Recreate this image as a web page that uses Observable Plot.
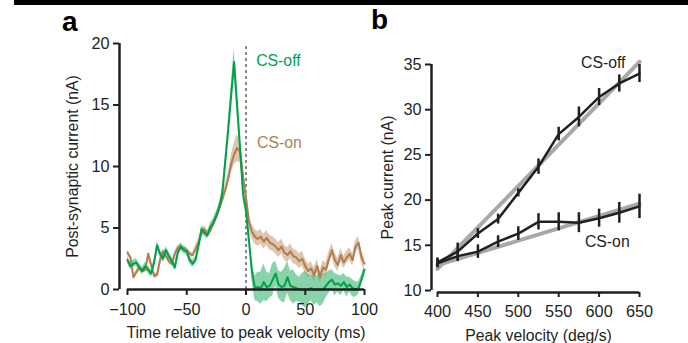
<!DOCTYPE html>
<html><head><meta charset="utf-8">
<script src="https://cdn.jsdelivr.net/npm/d3@7"></script>
<script src="https://cdn.jsdelivr.net/npm/@observablehq/plot@0.6"></script>
<style>
body{margin:0;background:#fff;}
#wrap{position:relative;width:688px;height:343px;overflow:hidden;font-family:"Liberation Sans",Arial,sans-serif;background:#fff;}
#bar{position:absolute;left:14px;top:0;width:674px;height:5px;background:#000;}
.lab{position:absolute;font-weight:bold;font-size:28px;line-height:1;color:#000;}
#pa,#pb{position:absolute;top:0;}
#pa{left:0;} #pb{left:370px;}
</style></head><body>
<div id="wrap"><div id="bar"></div><div id="pa"></div><div id="pb"></div><div class="lab" id="la" style="left:62px;top:8px;">a</div><div class="lab" id="lb" style="left:371px;top:6px;">b</div></div>
<script>
// ---------- Panel a data ----------
const time = [-100,-97.5,-95,-92.5,-90,-87.5,-85,-82.5,-80,-77.5,-75,-72.5,-70,-67.5,-65,-62.5,-60,-57.5,-55,-52.5,-50,-47.5,-45,-42.5,-40,-37.5,-35,-32.5,-30,-27.5,-25,-22.5,-20,-17.5,-15,-12.5,-10,-7.5,-5,-2.5,0,2.5,5,7.5,10,12.5,15,17.5,20,22.5,25,27.5,30,32.5,35,37.5,40,42.5,45,47.5,50,52.5,55,57.5,60,62.5,65,67.5,70,72.5,75,77.5,80,82.5,85,87.5,90,92.5,95,97.5,100];
const csOff = [2.4,1.9,2.1,2.2,1.8,1.5,1.9,1.6,1.3,2.2,3.6,2.9,2.5,3.2,2.7,2.3,1.8,3.0,3.5,3.2,3.1,2.4,2.1,2.4,3.6,4.9,4.6,4.4,5.1,5.4,6.0,6.7,7.8,10.4,13.0,15.8,18.5,15.0,11.5,7.8,6.4,4.0,1.5,0.1,0.2,0.1,0.6,0.2,0.3,0.8,1.3,0.4,0.2,0.3,1.0,0.3,0.2,0.1,0.0,0.0,0.0,0.0,0.1,0.0,0.0,0.0,0.0,0.3,0.6,0.8,0.4,0.5,0.3,0.6,0.2,0.4,0.1,0.0,0.1,0.8,1.6];
const csOffErr = [0.3,0.3,0.3,0.3,0.3,0.3,0.3,0.3,0.3,0.3,0.3,0.3,0.3,0.3,0.3,0.3,0.3,0.3,0.3,0.3,0.3,0.3,0.3,0.3,0.3,0.3,0.3,0.3,0.3,0.35,0.35,0.35,0.4,0.5,0.6,0.8,1.1,0.8,0.6,0.4,0.3,0.4,0.7,1.0,1.2,1.3,1.5,1.2,1.0,1.3,1.0,1.1,1.2,1.4,1.3,1.2,1.4,1.1,1.0,1.3,1.5,1.2,1.0,1.3,1.1,1.4,1.2,1.0,0.9,0.8,0.9,0.7,0.8,0.7,0.8,0.6,0.7,0.6,0.5,0.4,0.3];
const csOn = [3.0,2.6,1.0,1.4,1.8,1.5,1.6,2.9,2.0,1.1,1.2,2.4,3.1,2.7,2.3,2.1,2.9,3.4,3.5,3.3,3.2,2.9,2.8,3.3,3.8,4.6,4.9,4.5,4.8,5.4,5.9,6.6,7.3,8.1,9.0,10.2,11.0,11.5,11.2,9.2,7.5,5.5,4.7,4.3,4.1,4.3,3.9,4.2,3.8,3.7,3.5,3.2,3.5,3.0,2.8,3.1,2.7,2.6,2.3,2.5,1.9,1.5,1.7,1.2,1.9,1.0,1.8,1.6,2.5,3.2,2.4,2.0,2.8,2.2,2.6,2.9,2.4,3.5,3.8,2.6,2.1];
const csOnErr = [0.2,0.2,0.2,0.2,0.2,0.2,0.2,0.2,0.2,0.2,0.2,0.2,0.2,0.2,0.2,0.2,0.2,0.2,0.2,0.2,0.2,0.2,0.2,0.3,0.3,0.3,0.3,0.3,0.3,0.35,0.35,0.35,0.35,0.4,0.5,0.7,0.9,1.1,0.9,0.7,0.6,0.6,0.6,0.6,0.6,0.6,0.6,0.6,0.6,0.6,0.6,0.6,0.6,0.6,0.6,0.6,0.6,0.6,0.6,0.6,0.6,0.55,0.55,0.55,0.55,0.55,0.55,0.55,0.55,0.55,0.55,0.55,0.55,0.5,0.5,0.5,0.5,0.5,0.5,0.5,0.5];
const xTicksA = [-100,-50,0,50,100];
const yTicksA = [0,5,10,15,20];

// ---------- Panel b data ----------
const velocity = [400,425,450,475,500,525,550,575,600,625,650];
const offPeak = [13.1,14.3,16.3,17.9,20.8,23.7,27.3,29.2,31.4,32.9,34.0];
const offPeakErr = [0.5,0.95,0.55,0.55,0.45,0.85,0.75,1.1,0.95,0.95,1.0];
const onPeak = [13.0,13.8,14.3,15.4,16.3,17.6,17.6,17.5,18.0,18.6,19.3];
const onPeakErr = [0.5,0.6,0.75,0.65,0.75,0.9,1.0,1.1,1.0,1.15,1.35];
const fitVelocity = [400,650];
const offFit = [12.4,35.3];
const onFit = [12.8,19.6];
const xTicksB = [400,450,500,550,600,650];
const yTicksB = [10,15,20,25,30,35];

const GREEN = "#00a14b", GREEN_BAND = "#48bb7c", BROWN = "#b07e50", BROWN_BAND = "#c9a07a";
const INK = "#231f20";
const FONT = "Liberation Sans, Arial, sans-serif";
const FS = 15.8;   // titles / labels
const TFS = 16.3;  // tick labels

const rowsA = time.map((t, i) => ({
  t, off: csOff[i], offLo: csOff[i] - csOffErr[i], offHi: csOff[i] + csOffErr[i],
  on: csOn[i], onLo: csOn[i] - csOnErr[i], onHi: csOn[i] + csOnErr[i]
}));
const peakOffIdx = d3.maxIndex(csOff);
const peakOnIdx = d3.maxIndex(csOn);

const plotA = Plot.plot({
  width: 380, height: 343,
  marginLeft: 127, marginRight: 16, marginTop: 43, marginBottom: 54,
  style: {fontFamily: FONT, fontSize: FS + "px", color: INK, background: "transparent", overflow: "visible"},
  x: {domain: [-100, 100]},
  y: {domain: [0, 20]},
  marks: [
    Plot.areaY(rowsA, {x: "t", y1: "onLo", y2: "onHi", fill: BROWN_BAND, fillOpacity: 0.6}),
    Plot.areaY(rowsA, {x: "t", y1: "offLo", y2: "offHi", fill: GREEN_BAND, fillOpacity: 0.65}),
    Plot.ruleX([0], {y1: 0, y2: 20, stroke: "#8a8a8a", strokeWidth: 2, strokeDasharray: "3,3"}),
    Plot.lineY(rowsA, {x: "t", y: "on", stroke: BROWN, strokeWidth: 2}),
    Plot.lineY(rowsA, {x: "t", y: "off", stroke: GREEN, strokeWidth: 2}),
    Plot.ruleY([0], {x1: -100, x2: 100, stroke: INK, strokeWidth: 2.5}),
    Plot.ruleX([-100], {y1: 0, y2: 20, dx: -8, stroke: INK, strokeWidth: 2.5}),
    Plot.axisX({ticks: xTicksA, tickSize: 6, tickPadding: 8, strokeWidth: 2, stroke: INK, fontSize: TFS, label: null}),
    Plot.axisY({ticks: yTicksA, tickSize: 6, tickPadding: 4, dx: -8, strokeWidth: 2, stroke: INK, fontSize: TFS, label: null}),
    Plot.text(["Time relative to peak velocity (ms)"], {frameAnchor: "bottom", dy: 48, fontSize: FS, fill: INK}),
    Plot.text(["Post-synaptic current (nA)"], {frameAnchor: "left", rotate: -90, textAnchor: "middle", dx: -55, fontSize: FS, fill: INK}),
    Plot.text([rowsA[peakOffIdx]], {x: "t", y: "off", text: () => "CS-off", textAnchor: "start", dx: 22, dy: -1.5, fontSize: FS, fill: GREEN}),
    Plot.text([rowsA[peakOnIdx]], {x: "t", y: "on", text: () => "CS-on", textAnchor: "start", dx: 20, dy: -5, fontSize: FS, fill: BROWN})
  ]
});
document.getElementById("pa").appendChild(plotA);

const rowsOff = velocity.map((v, i) => ({v, y: offPeak[i], lo: offPeak[i] - offPeakErr[i], hi: offPeak[i] + offPeakErr[i]}));
const rowsOn = velocity.map((v, i) => ({v, y: onPeak[i], lo: onPeak[i] - onPeakErr[i], hi: onPeak[i] + onPeakErr[i]}));
const fitOffRows = fitVelocity.map((v, i) => ({v, y: offFit[i]}));
const fitOnRows = fitVelocity.map((v, i) => ({v, y: onFit[i]}));

const plotB = Plot.plot({
  width: 318, height: 343,
  marginLeft: 67, marginRight: 49, marginTop: 64, marginBottom: 53,
  style: {fontFamily: FONT, fontSize: FS + "px", color: INK, background: "transparent", overflow: "visible"},
  x: {domain: [400, 650]},
  y: {domain: [10, 35]},
  marks: [
    Plot.line(fitOffRows, {x: "v", y: "y", stroke: "#a8a8a8", strokeWidth: 4}),
    Plot.line(fitOnRows, {x: "v", y: "y", stroke: "#a8a8a8", strokeWidth: 4}),
    Plot.line(rowsOff, {x: "v", y: "y", stroke: INK, strokeWidth: 2.5}),
    Plot.line(rowsOn, {x: "v", y: "y", stroke: INK, strokeWidth: 2.5}),
    Plot.ruleX(rowsOff, {x: "v", y1: "lo", y2: "hi", stroke: INK, strokeWidth: 2.5}),
    Plot.ruleX(rowsOn, {x: "v", y1: "lo", y2: "hi", stroke: INK, strokeWidth: 2.5}),
    Plot.ruleY([10], {x1: 400, x2: 650, dy: 2, stroke: INK, strokeWidth: 2.5}),
    Plot.ruleX([400], {y1: 10, y2: 35, dx: -6, stroke: INK, strokeWidth: 2.5}),
    Plot.axisX({ticks: xTicksB, tickSize: 5, tickPadding: 8, dy: 2, strokeWidth: 2, stroke: INK, fontSize: TFS, label: null}),
    Plot.axisY({ticks: yTicksB, tickSize: 6, tickPadding: 4, dx: -6, strokeWidth: 2, stroke: INK, fontSize: TFS, label: null}),
    Plot.text(["Peak velocity (deg/s)"], {frameAnchor: "bottom", dy: 50, fontSize: FS, fill: INK}),
    Plot.text(["Peak current (nA)"], {frameAnchor: "left", rotate: -90, textAnchor: "middle", dx: -50, fontSize: FS, fill: INK}),
    Plot.text([rowsOff[rowsOff.length - 1]], {x: "v", y: "y", text: () => "CS-off", textAnchor: "end", dx: -14, dy: -11, fontSize: FS, fill: INK}),
    Plot.text([rowsOn[7]], {x: "v", y: "y", text: () => "CS-on", textAnchor: "start", dx: 6, dy: 19, fontSize: FS, fill: INK})
  ]
});
document.getElementById("pb").appendChild(plotB);
</script>
</body></html>
